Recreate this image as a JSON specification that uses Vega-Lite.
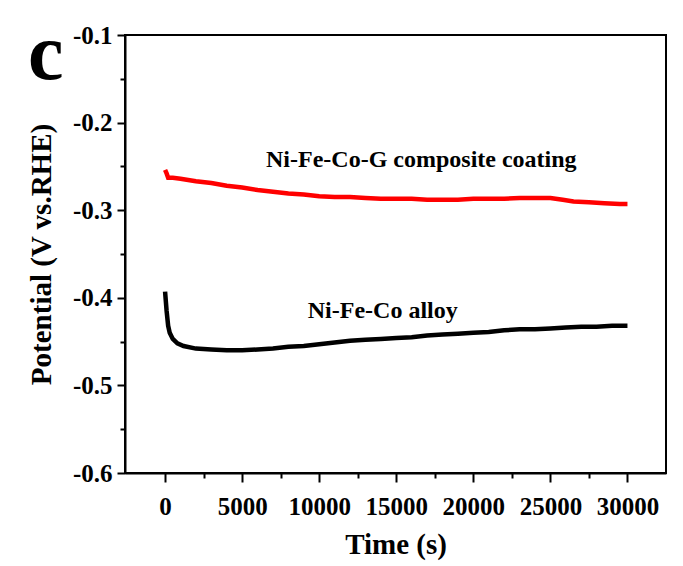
{
  "$schema": "https://vega.github.io/schema/vega-lite/v6.json",
  "autosize": "none",
  "width": 541,
  "height": 438,
  "padding": {"left": 125, "top": 35, "right": 17, "bottom": 93},
  "background": "white",
  "title": {
    "text": "c",
    "font": "Liberation Serif",
    "fontWeight": "bold",
    "fontSize": 80,
    "color": "black",
    "anchor": "start",
    "frame": "group",
    "orient": "top",
    "offset": -136,
    "baseline": "alphabetic",
    "dx": -97
  },
  "datasets": {
    "curves": [
      {"series": "Ni-Fe-Co-G", "time": 0, "potential": -0.254},
      {"series": "Ni-Fe-Co-G", "time": 100, "potential": -0.258},
      {"series": "Ni-Fe-Co-G", "time": 200, "potential": -0.263},
      {"series": "Ni-Fe-Co-G", "time": 500, "potential": -0.263},
      {"series": "Ni-Fe-Co-G", "time": 1000, "potential": -0.264},
      {"series": "Ni-Fe-Co-G", "time": 2000, "potential": -0.267},
      {"series": "Ni-Fe-Co-G", "time": 3000, "potential": -0.269},
      {"series": "Ni-Fe-Co-G", "time": 4000, "potential": -0.272},
      {"series": "Ni-Fe-Co-G", "time": 5000, "potential": -0.274},
      {"series": "Ni-Fe-Co-G", "time": 6000, "potential": -0.277},
      {"series": "Ni-Fe-Co-G", "time": 7000, "potential": -0.279},
      {"series": "Ni-Fe-Co-G", "time": 8000, "potential": -0.281},
      {"series": "Ni-Fe-Co-G", "time": 9000, "potential": -0.282},
      {"series": "Ni-Fe-Co-G", "time": 10000, "potential": -0.284},
      {"series": "Ni-Fe-Co-G", "time": 11000, "potential": -0.285},
      {"series": "Ni-Fe-Co-G", "time": 12000, "potential": -0.285},
      {"series": "Ni-Fe-Co-G", "time": 13000, "potential": -0.286},
      {"series": "Ni-Fe-Co-G", "time": 14000, "potential": -0.287},
      {"series": "Ni-Fe-Co-G", "time": 15000, "potential": -0.287},
      {"series": "Ni-Fe-Co-G", "time": 16000, "potential": -0.287},
      {"series": "Ni-Fe-Co-G", "time": 17000, "potential": -0.288},
      {"series": "Ni-Fe-Co-G", "time": 18000, "potential": -0.288},
      {"series": "Ni-Fe-Co-G", "time": 19000, "potential": -0.288},
      {"series": "Ni-Fe-Co-G", "time": 20000, "potential": -0.287},
      {"series": "Ni-Fe-Co-G", "time": 21000, "potential": -0.287},
      {"series": "Ni-Fe-Co-G", "time": 22000, "potential": -0.287},
      {"series": "Ni-Fe-Co-G", "time": 23000, "potential": -0.286},
      {"series": "Ni-Fe-Co-G", "time": 24000, "potential": -0.286},
      {"series": "Ni-Fe-Co-G", "time": 25000, "potential": -0.286},
      {"series": "Ni-Fe-Co-G", "time": 25800, "potential": -0.288},
      {"series": "Ni-Fe-Co-G", "time": 26500, "potential": -0.290},
      {"series": "Ni-Fe-Co-G", "time": 27500, "potential": -0.291},
      {"series": "Ni-Fe-Co-G", "time": 28500, "potential": -0.292},
      {"series": "Ni-Fe-Co-G", "time": 29500, "potential": -0.293},
      {"series": "Ni-Fe-Co-G", "time": 30000, "potential": -0.293},
      {"series": "Ni-Fe-Co", "time": 0, "potential": -0.393},
      {"series": "Ni-Fe-Co", "time": 100, "potential": -0.415},
      {"series": "Ni-Fe-Co", "time": 200, "potential": -0.432},
      {"series": "Ni-Fe-Co", "time": 300, "potential": -0.440},
      {"series": "Ni-Fe-Co", "time": 500, "potential": -0.447},
      {"series": "Ni-Fe-Co", "time": 800, "potential": -0.452},
      {"series": "Ni-Fe-Co", "time": 1200, "potential": -0.455},
      {"series": "Ni-Fe-Co", "time": 2000, "potential": -0.458},
      {"series": "Ni-Fe-Co", "time": 3000, "potential": -0.459},
      {"series": "Ni-Fe-Co", "time": 4000, "potential": -0.460},
      {"series": "Ni-Fe-Co", "time": 5000, "potential": -0.460},
      {"series": "Ni-Fe-Co", "time": 6000, "potential": -0.459},
      {"series": "Ni-Fe-Co", "time": 7000, "potential": -0.458},
      {"series": "Ni-Fe-Co", "time": 8000, "potential": -0.456},
      {"series": "Ni-Fe-Co", "time": 9000, "potential": -0.455},
      {"series": "Ni-Fe-Co", "time": 10000, "potential": -0.453},
      {"series": "Ni-Fe-Co", "time": 11000, "potential": -0.451},
      {"series": "Ni-Fe-Co", "time": 12000, "potential": -0.449},
      {"series": "Ni-Fe-Co", "time": 13000, "potential": -0.448},
      {"series": "Ni-Fe-Co", "time": 14000, "potential": -0.447},
      {"series": "Ni-Fe-Co", "time": 15000, "potential": -0.446},
      {"series": "Ni-Fe-Co", "time": 16000, "potential": -0.445},
      {"series": "Ni-Fe-Co", "time": 17000, "potential": -0.443},
      {"series": "Ni-Fe-Co", "time": 18000, "potential": -0.442},
      {"series": "Ni-Fe-Co", "time": 19000, "potential": -0.441},
      {"series": "Ni-Fe-Co", "time": 20000, "potential": -0.440},
      {"series": "Ni-Fe-Co", "time": 21000, "potential": -0.439},
      {"series": "Ni-Fe-Co", "time": 22000, "potential": -0.437},
      {"series": "Ni-Fe-Co", "time": 23000, "potential": -0.436},
      {"series": "Ni-Fe-Co", "time": 24000, "potential": -0.436},
      {"series": "Ni-Fe-Co", "time": 25000, "potential": -0.435},
      {"series": "Ni-Fe-Co", "time": 26000, "potential": -0.434},
      {"series": "Ni-Fe-Co", "time": 27000, "potential": -0.433},
      {"series": "Ni-Fe-Co", "time": 28000, "potential": -0.433},
      {"series": "Ni-Fe-Co", "time": 29000, "potential": -0.432},
      {"series": "Ni-Fe-Co", "time": 30000, "potential": -0.432}
    ],
    "labels": [
      {"label": "Ni-Fe-Co-G composite coating", "time": 16625, "potential": -0.2507},
      {"label": "Ni-Fe-Co alloy", "time": 14124, "potential": -0.4231}
    ]
  },
  "config": {
    "view": {"stroke": "black", "strokeWidth": 2},
    "axis": {
      "grid": false,
      "domainColor": "black",
      "domainWidth": 2,
      "tickColor": "black",
      "tickWidth": 2,
      "labelColor": "black",
      "titleColor": "black",
      "labelFont": "Liberation Serif",
      "labelFontWeight": "bold",
      "labelFontSize": 25,
      "titleFont": "Liberation Serif",
      "titleFontWeight": "bold",
      "titleFontSize": 29
    }
  },
  "resolve": {"axis": {"x": "independent", "y": "independent"}},
  "layer": [
    {
      "data": {"name": "curves"},
      "mark": {"type": "line", "strokeWidth": 4.5, "clip": true},
      "encoding": {
        "x": {
          "field": "time",
          "type": "quantitative",
          "scale": {"domain": [-2600, 32500], "nice": false, "zero": false},
          "axis": {
            "orient": "bottom",
            "title": "Time (s)",
            "values": [0, 5000, 10000, 15000, 20000, 25000, 30000],
            "format": "d",
            "tickSize": 9,
            "labelPadding": 12,
            "titlePadding": 11,
            "labelFlush": false,
            "labelOverlap": false
          }
        },
        "y": {
          "field": "potential",
          "type": "quantitative",
          "scale": {"domain": [-0.6, -0.1], "nice": false, "zero": false},
          "axis": {
            "orient": "left",
            "title": "Potential (V vs.RHE)",
            "values": [-0.6, -0.5, -0.4, -0.3, -0.2, -0.1],
            "labelExpr": "replace(format(datum.value, '.1f'), '−', '-')",
            "tickSize": 8,
            "labelPadding": 5,
            "titlePadding": 16,
            "labelFlush": false,
            "labelOverlap": false
          }
        },
        "color": {
          "field": "series",
          "type": "nominal",
          "scale": {"domain": ["Ni-Fe-Co-G", "Ni-Fe-Co"], "range": ["#ff0000", "#000000"]},
          "legend": null
        }
      }
    },
    {
      "data": {"name": "labels"},
      "mark": {
        "type": "text",
        "font": "Liberation Serif",
        "fontWeight": "bold",
        "fontSize": 24,
        "color": "black",
        "align": "center",
        "baseline": "alphabetic"
      },
      "encoding": {
        "x": {
          "field": "time",
          "type": "quantitative",
          "axis": {
            "orient": "bottom",
            "title": null,
            "values": [2500, 7500, 12500, 17500, 22500, 27500],
            "labels": false,
            "domain": false,
            "tickSize": 5
          }
        },
        "y": {
          "field": "potential",
          "type": "quantitative",
          "axis": {
            "orient": "left",
            "title": null,
            "values": [-0.55, -0.45, -0.35, -0.25, -0.15],
            "labels": false,
            "domain": false,
            "tickSize": 5
          }
        },
        "text": {"field": "label", "type": "nominal"}
      }
    }
  ]
}
